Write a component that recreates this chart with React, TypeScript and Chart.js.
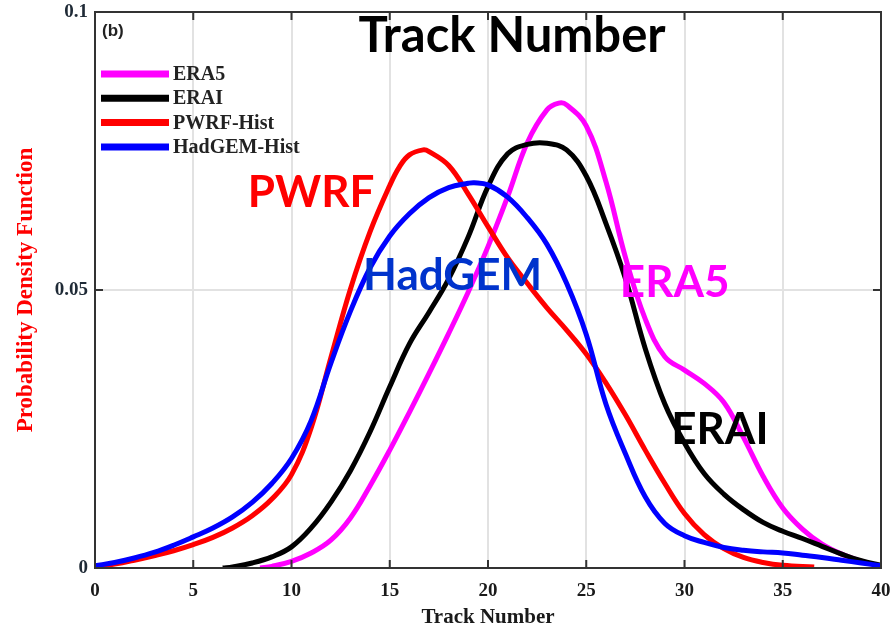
import React, { useEffect, useRef } from "react";
import { Chart, registerables } from "chart.js";

Chart.register(...registerables);

// ---------- data ----------
const era5X = [8.4, 9, 10, 11, 12, 13, 14, 15, 16, 17, 18, 19, 20, 21, 22, 23, 23.6, 24, 25, 26, 27, 28, 29, 30, 31, 32, 33, 34, 35, 36, 37, 38, 39, 40];
const era5Y = [0, 0.0003, 0.0012, 0.0027, 0.005, 0.009, 0.0148, 0.0212, 0.028, 0.035, 0.0422, 0.0497, 0.0578, 0.0668, 0.0765, 0.0824, 0.0836, 0.0833, 0.0795, 0.0695, 0.0558, 0.0448, 0.038, 0.0356, 0.0332, 0.0298, 0.0235, 0.0165, 0.0108, 0.007, 0.0043, 0.0025, 0.0012, 0.0003];

const eraiX = [6.5, 7, 8, 9, 10, 11, 12, 13, 14, 15, 16, 17, 18, 19, 20, 21, 22, 23, 24, 25, 26, 27, 28, 29, 30, 31, 32, 33, 34, 35, 36, 37, 38, 39, 40];
const eraiY = [0, 0.0002, 0.0009, 0.002, 0.0038, 0.0072, 0.0118, 0.0175, 0.0245, 0.0326, 0.0403, 0.046, 0.052, 0.0596, 0.0686, 0.0745, 0.0762, 0.0764, 0.0752, 0.0705, 0.062, 0.052, 0.0395, 0.0295, 0.0225, 0.017, 0.0133, 0.0105, 0.0082, 0.0066, 0.0053, 0.0039, 0.0025, 0.0013, 0.0005];

const pwrfX = [0, 1, 2, 3, 4, 5, 6, 7, 8, 9, 10, 11, 12, 13, 14, 15, 15.5, 16, 16.7, 17, 18, 19, 20, 21, 22, 23, 24, 25, 26, 27, 28, 29, 30, 31, 32, 33, 34, 35, 36.6];
const pwrfY = [0.0002, 0.0007, 0.0014, 0.0022, 0.0031, 0.0042, 0.0055, 0.0072, 0.0094, 0.0124, 0.0168, 0.0252, 0.0378, 0.0502, 0.0605, 0.0688, 0.0722, 0.0743, 0.0752, 0.0749, 0.0724, 0.0672, 0.0614, 0.0558, 0.0512, 0.0468, 0.0428, 0.0385, 0.0333, 0.0275, 0.0212, 0.0152, 0.0098, 0.006, 0.0035, 0.0019, 0.001, 0.0005, 0.0002];

const hadX = [0, 1, 2, 3, 4, 5, 6, 7, 8, 9, 10, 11, 12, 13, 14, 15, 16, 17, 18, 19, 19.3, 20, 21, 22, 23, 24, 25, 26, 27, 28, 29, 30, 31, 32, 33, 34, 35, 36, 37, 38, 39, 40];
const hadY = [0.0004, 0.001, 0.0018, 0.0028, 0.0041, 0.0056, 0.0072, 0.0092, 0.0118, 0.0152, 0.0197, 0.0265, 0.0368, 0.0462, 0.054, 0.0597, 0.0637, 0.0666, 0.0684, 0.0692, 0.0693, 0.0689, 0.0667, 0.063, 0.0582, 0.0512, 0.042, 0.0295, 0.0205, 0.0128, 0.008, 0.0058, 0.0046, 0.0037, 0.0032, 0.0029, 0.0027, 0.0023, 0.0019, 0.0014, 0.0009, 0.0004];

const seriesLabels = ["ERA5", "ERAI", "PWRF-Hist", "HadGEM-Hist"];
const seriesColors = ["#ff00ff", "#000000", "#ff0000", "#0000ff"];

const xTickValues = [0, 5, 10, 15, 20, 25, 30, 35, 40];
const yTickValues = [0, 0.05, 0.1];
const yTickLabels = ["0", "0.05", "0.1"];

const chartTitle = "Track Number";
const panelLabel = "(b)";
const xAxisTitle = "Track Number";
const yAxisTitle = "Probability Density Function";

const noteTexts = ["PWRF", "HadGEM", "ERA5", "ERAI"];
const noteX = [11.0, 18.2, 29.5, 31.8];
const noteY = [0.0674, 0.0525, 0.0513, 0.0248];
const noteColors = ["#ff0000", "#0033cc", "#ff00ff", "#000000"];

const toPoints = (xs: number[], ys: number[]) => xs.map((x, i) => ({ x, y: ys[i] }));

const overlayPlugin = {
  id: "overlay",
  afterDatasetsDraw(chart: any) {
    const { ctx, chartArea: a, scales } = chart;
    const xs = scales.x;
    const ys = scales.y;
    ctx.save();
    // frame
    ctx.strokeStyle = "#333333";
    ctx.lineWidth = 2;
    ctx.strokeRect(a.left, a.top, a.right - a.left, a.bottom - a.top);
    // inward ticks
    ctx.beginPath();
    xTickValues.forEach((v) => {
      const px = xs.getPixelForValue(v);
      ctx.moveTo(px, a.bottom);
      ctx.lineTo(px, a.bottom - 8);
      ctx.moveTo(px, a.top);
      ctx.lineTo(px, a.top + 8);
    });
    yTickValues.forEach((v) => {
      const py = ys.getPixelForValue(v);
      ctx.moveTo(a.left, py);
      ctx.lineTo(a.left + 8, py);
      ctx.moveTo(a.right, py);
      ctx.lineTo(a.right - 8, py);
    });
    ctx.stroke();

    // panel label
    ctx.fillStyle = "#222222";
    ctx.font = "bold 17px 'Liberation Sans', Arial, sans-serif";
    ctx.textAlign = "left";
    ctx.textBaseline = "middle";
    ctx.fillText(panelLabel, a.left + 7, a.top + 19);

    // legend
    seriesLabels.forEach((lab, i) => {
      const yy = a.top + 62 + i * 24.3;
      ctx.strokeStyle = seriesColors[i];
      ctx.lineWidth = 7;
      ctx.lineCap = "butt";
      ctx.beginPath();
      ctx.moveTo(a.left + 6, yy);
      ctx.lineTo(a.left + 74, yy);
      ctx.stroke();
      ctx.fillStyle = "#222222";
      ctx.font = "bold 20px 'Liberation Serif', 'Times New Roman', serif";
      ctx.textAlign = "left";
      ctx.textBaseline = "middle";
      ctx.fillText(lab, a.left + 78, yy + 1);
    });

    // title inside plot
    ctx.fillStyle = "#000000";
    ctx.font = "bold 49px Lato, 'Open Sans', sans-serif";
    ctx.textAlign = "center";
    ctx.textBaseline = "middle";
    ctx.fillText(chartTitle, (a.left + a.right) / 2 + 24, a.top + 24);

    // series notes
    noteTexts.forEach((t, i) => {
      ctx.fillStyle = noteColors[i];
      ctx.font = "bold 44px Lato, 'Open Sans', sans-serif";
      ctx.textAlign = "center";
      ctx.textBaseline = "middle";
      ctx.fillText(t, xs.getPixelForValue(noteX[i]), ys.getPixelForValue(noteY[i]));
    });
    ctx.restore();
  },
};

export default function App() {
  const canvasRef = useRef<HTMLCanvasElement | null>(null);

  useEffect(() => {
    if (!canvasRef.current) return;
    const series = [
      toPoints(era5X, era5Y),
      toPoints(eraiX, eraiY),
      toPoints(pwrfX, pwrfY),
      toPoints(hadX, hadY),
    ];
    const orders = [4, 3, 2, 1];
    const chart = new Chart(canvasRef.current, {
      type: "line",
      data: {
        datasets: series.map((pts, i) => ({
          label: seriesLabels[i],
          data: pts,
          borderColor: seriesColors[i],
          backgroundColor: seriesColors[i],
          borderWidth: 5,
          pointRadius: 0,
          fill: false,
          tension: 0.4,
          order: orders[i],
        })),
      },
      options: {
        animation: false,
        responsive: false,
        layout: { padding: { left: 0, right: 13, top: 12, bottom: 0 } },
        plugins: { legend: { display: false }, tooltip: { enabled: false }, title: { display: false } },
        scales: {
          x: {
            type: "linear",
            min: 0,
            max: 40,
            afterFit: (s: any) => {
              s.height = 64;
              s.paddingLeft = 0;
              s.paddingRight = 0;
            },
            afterBuildTicks: (s: any) => {
              s.ticks = xTickValues.map((v) => ({ value: v }));
            },
            ticks: {
              color: "#1a1a1a",
              font: { family: "'Liberation Serif', 'Times New Roman', serif", size: 19, weight: "bold" },
              padding: 12,
              maxRotation: 0,
              callback: (v: any) => String(v),
            },
            grid: { color: "#e2e2e2", lineWidth: 2, drawTicks: false },
            border: { display: false },
            title: {
              display: true,
              text: xAxisTitle,
              color: "#1a1a1a",
              font: { family: "'Liberation Serif', 'Times New Roman', serif", size: 21, weight: "bold" },
              padding: { top: 0, bottom: 2 },
            },
          },
          y: {
            type: "linear",
            min: 0,
            max: 0.1,
            afterFit: (s: any) => {
              s.width = 95;
              s.paddingTop = 0;
              s.paddingBottom = 0;
            },
            afterBuildTicks: (s: any) => {
              s.ticks = yTickValues.map((v) => ({ value: v }));
            },
            ticks: {
              color: "#1f2a36",
              font: { family: "'Liberation Serif', 'Times New Roman', serif", size: 19, weight: "bold" },
              padding: 7,
              callback: (v: any) => {
                const idx = yTickValues.findIndex((t) => Math.abs(t - Number(v)) < 1e-9);
                return idx >= 0 ? yTickLabels[idx] : "";
              },
            },
            grid: { color: "#e2e2e2", lineWidth: 2, drawTicks: false },
            border: { display: false },
            title: {
              display: true,
              text: yAxisTitle,
              color: "#ff0000",
              font: { family: "'Liberation Serif', 'Times New Roman', serif", size: 23, weight: "bold" },
              padding: { top: 12, bottom: 0 },
            },
          },
        },
      },
      plugins: [overlayPlugin],
    });
    return () => chart.destroy();
  }, []);

  return (
    <div style={{ position: "absolute", left: 0, top: 0, width: 894, height: 632, background: "#ffffff" }}>
      <canvas ref={canvasRef} width={894} height={632} />
    </div>
  );
}
